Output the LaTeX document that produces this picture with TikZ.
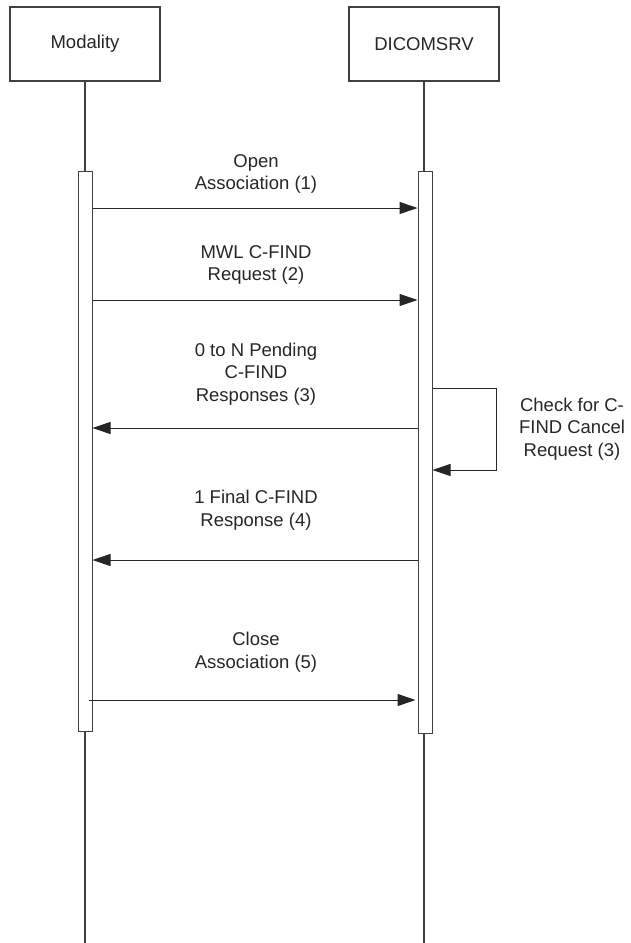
\documentclass[tikz,border=0pt]{standalone}
\usepackage{fontspec}
\setmainfont{Liberation Sans}
\usetikzlibrary{arrows.meta}

\begin{document}
\begin{tikzpicture}[
	x=1pt, y=-1pt,
	align=center,
	font=\fontsize{18.5}{22.5}\selectfont,
	text=black!85,
	actor/.style={
		draw=black!75,
		line width=1.2pt,
		minimum width=150pt,
		minimum height=74pt,
		inner sep=0pt
	},
	bar/.style={
		draw=black!75,
		fill=white,
		line width=1pt,
		minimum width=14pt,
		inner sep=0pt
	},
	life/.style={draw=black!75, line width=1.1pt},
	msg/.style={draw=black!85, line width=1pt, -{Triangle[length=18pt,width=12pt]}},
	lbl/.style={inner sep=0pt}
	]
    \useasboundingbox (0,0) rectangle (630,943);

    % actors
    \node[actor] at (85,44) (modality) {Modality};
    \node[actor] at (424,44) (dicomsrv) {DICOMSRV};

    % lifelines
    \coordinate (bottom) at (0,943);
    \draw[life] (modality.south) -- (modality.south |- bottom);
    \draw[life] (dicomsrv.south) -- (dicomsrv.south |- bottom);

    % activation bars
    \node[bar, minimum height=560pt] at (85,451) (barM) {};
    \node[bar, minimum height=562pt] at (425,452) (barD) {};

    % message rows
    \coordinate (y1) at (0,208);
    \coordinate (y2) at (0,300);
    \coordinate (y3) at (0,428);
    \coordinate (y4) at (0,560);
    \coordinate (y5) at (0,700);

    % open association
    \node[lbl] at (256,174) (l1) {Open\\Association (1)};
    \draw[msg] (barM.east |- y1) -- (barD.west |- y1);
    % c-find request
    \node[lbl] at (256,265) (l2) {MWL C-FIND\\Request (2)};
    \draw[msg] (barM.east |- y2) -- (barD.west |- y2);
    % pending responses
    \node[lbl] at (256,374) (l3) {0 to N Pending\\C-FIND\\Responses (3)};
    \draw[msg] (barD.west |- y3) -- (barM.east |- y3);
    % cancel check
    \coordinate (lt) at (496,388);
    \coordinate (lb) at (496,470);
    \draw[msg] (barD.east |- lt) -- (lt) -- (lb) -- (barD.east |- lb);
    \node[lbl] at (572,429) (l6) {Check for C-\\FIND Cancel\\Request (3)};
    % final response
    \node[lbl] at (256,510) (l4) {1 Final C-FIND\\Response (4)};
    \draw[msg] (barD.west |- y4) -- (barM.east |- y4);
    % close association
    \node[lbl] at (256,652) (l5) {Close\\Association (5)};
    \draw[msg] ([xshift=-4pt]barM.east |- y5) -- ([xshift=-2pt]barD.west |- y5);

\end{tikzpicture}
\end{document}
